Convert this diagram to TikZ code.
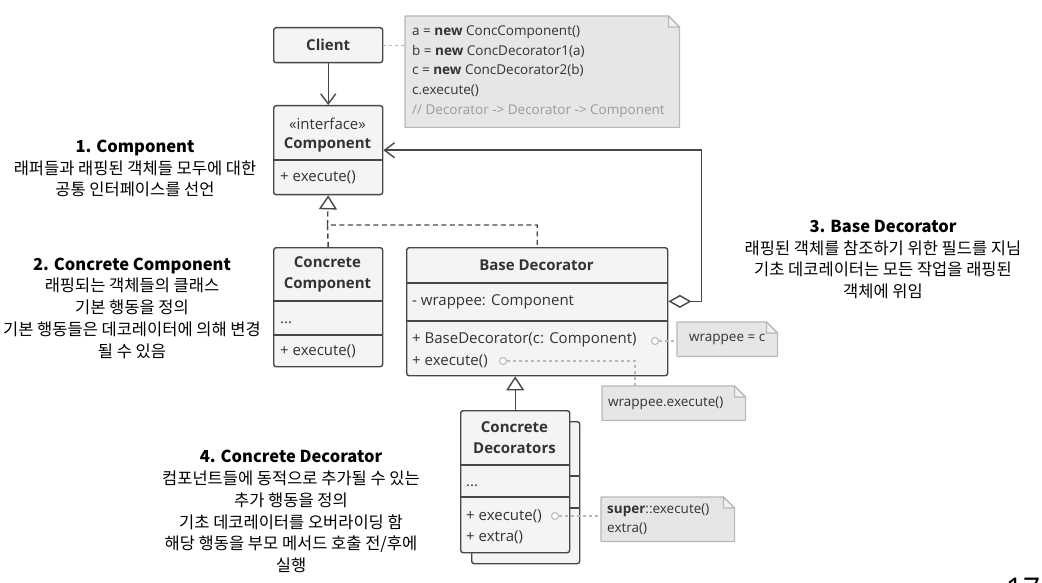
\documentclass[tikz,border=0pt]{standalone}
\usepackage{fontspec}
\setmainfont{Open Sans}
\newfontfamily\kofont{Noto Sans CJK KR}
\usepackage{xcolor}
\usepackage{tikz}
\usetikzlibrary{positioning,calc,arrows.meta}

\definecolor{umlline}{HTML}{474747}
\definecolor{umlfill}{HTML}{F4F4F4}
\definecolor{umltext}{HTML}{333333}
\definecolor{memofill}{HTML}{E6E6E6}
\definecolor{memofold}{HTML}{F2F2F2}
\definecolor{memoline}{HTML}{B8B8B8}
\definecolor{memogray}{HTML}{9A9A9A}

\begin{document}
\begin{tikzpicture}[
	x=1pt, y=-1pt,
	font=\fontsize{15}{18}\selectfont,
	% hộp lớp UML
	classbox/.style={draw=umlline, fill=umlfill, line width=1.4pt, rounded corners=2.5pt, anchor=north west, inner sep=0pt},
	cname/.style={inner sep=0pt, text=umltext, align=center, font=\fontsize{15}{21}\selectfont\bfseries},
	row/.style={anchor=base west, inner sep=0pt, text=umltext},
	divider/.style={umlline, line width=1.4pt},
	% ghi chú
	memoarea/.style={anchor=north west, inner sep=0pt},
	memobox/.style={draw=memoline, fill=memofill, line width=1.2pt, line join=round},
	memotext/.style={anchor=west, inner sep=0pt, text=umltext, align=left, font=\fontsize{13.5}{19.6}\selectfont},
	memolink/.style={memoline, line width=1.2pt, dash pattern=on 3pt off 3pt},
	dot/.style={circle, draw=memoline, fill=white, line width=1pt, minimum size=7pt, inner sep=0pt},
	% mũi tên
	assoc/.style={arrows={-Straight Barb[length=10pt,width=15pt]}, umlline, line width=1.4pt},
	realize/.style={umlline, line width=1.4pt, dash pattern=on 5pt off 3.5pt},
	inherit/.style={arrows={-Triangle[open,length=14pt,width=18pt]}, umlline, line width=1.4pt},
	aggr/.style={arrows={Diamond[open,length=23pt,width=13pt]-Straight Barb[length=10pt,width=15pt]}, umlline, line width=1.4pt},
	ann/.style={align=center, inner sep=0pt, font=\kofont\fontsize{16.5}{21.8}\selectfont}
	]
	% --- NỀN ---
	\fill[white] (0,0) rectangle (1042,583);
	\useasboundingbox (0,0) rectangle (1042,583);
	
	% --- CLIENT ---
	\node[classbox, minimum width=109pt, minimum height=35pt] (client) at (273,27) {};
	\node[cname] (clientName) at (client.center) {Client};
	
	% --- COMPONENT ---
	\node[classbox, minimum width=109pt, minimum height=89pt] (comp) at (273,105) {};
	\node[inner sep=0pt, text=umltext] (compStereo) at (327.5,124) {«interface»};
	\node[cname] (compName) at (327.5,145) {Component};
	\node[row] (compExec) at (280,182) {+ execute()};
	
	% --- CONCRETE COMPONENT ---
	\node[classbox, minimum width=109pt, minimum height=119pt] (ccomp) at (273,247) {};
	\node[cname] (ccompName) at (327.5,274) {Concrete\\Component};
	\node[row] (ccompDots) at (280,323) {...};
	\node[row] (ccompExec) at (280,355) {+ execute()};
	
	% --- BASE DECORATOR ---
	\node[classbox, minimum width=261pt, minimum height=128pt] (bd) at (406,247) {};
	\node[cname] (bdName) at (536.5,265) {Base Decorator};
	\node[row] (bdWrap) at (412,305) {- wrappee: Component};
	\node[row] (bdCtor) at (412,343) {+ BaseDecorator(c: Component)};
	\node[row] (bdExec) at (412,365) {+ execute()};
	
	% --- CONCRETE DECORATORS (hai lớp chồng) ---
	\node[classbox, minimum width=108pt, minimum height=142pt] (cdecBack) at (471,421) {};
	\foreach \y in {476, 508}
	\draw[divider] (cdecBack.west |- 0,\y) -- (cdecBack.east |- 0,\y);
	\node[classbox, minimum width=109pt, minimum height=142pt] (cdec) at (460,410) {};
	\node[cname] (cdecName) at (514.5,438) {Concrete\\Decorators};
	\node[row] (cdecDots) at (466,486) {...};
	\node[row] (cdecExec) at (466,520) {+ execute()};
	\node[row] (cdecExtra) at (466,541) {+ extra()};
	
	% --- ĐƯỜNG CHIA NGĂN ---
	\foreach \b/\y in {comp/160, ccomp/301, ccomp/335, bd/283, bd/321, cdec/465, cdec/497}
	\draw[divider] (\b.west |- 0,\y) -- (\b.east |- 0,\y);
	
	% --- GHI CHÚ ---
	\node[memoarea, minimum width=274pt, minimum height=111pt] (note1) at (405,16) {};
	\node[memoarea, minimum width=100pt, minimum height=34pt] (note2) at (677,322) {};
	\node[memoarea, minimum width=143pt, minimum height=34pt] (note3) at (602,386) {};
	\node[memoarea, minimum width=133pt, minimum height=44pt] (note4) at (601,497) {};
	\foreach \n in {note1,note2,note3,note4}{
		\filldraw[memobox] (\n.north west) -- ($(\n.north east)+(-11,0)$) -- ($(\n.north east)+(0,11)$) -- (\n.south east) -- (\n.south west) -- cycle;
		\filldraw[memobox, fill=memofold] ($(\n.north east)+(-11,0)$) -- ($(\n.north east)+(-11,11)$) -- ($(\n.north east)+(0,11)$) -- cycle;
	}
	\node[memotext] (note1Text) at ([xshift=7pt]note1.west) {a = \textbf{new} ConcComponent()\\b = \textbf{new} ConcDecorator1(a)\\c = \textbf{new} ConcDecorator2(b)\\c.execute()\\\textcolor{memogray}{// Decorator -> Decorator -> Component}};
	\node[memotext, anchor=center] (note2Text) at (note2.center) {wrappee = c};
	\node[memotext] (note3Text) at ([xshift=6pt]note3.west) {wrappee.execute()};
	\node[memotext] (note4Text) at ([xshift=6pt]note4.west) {\textbf{super}::execute()\\extra()};
	
	% --- ĐIỂM NỐI GHI CHÚ ---
	\node[dot] (dotCtor) at (655,341) {};
	\node[dot] (dotExec) at (503,361) {};
	\node[dot] (dotCdec) at (555,516) {};
	\draw[memolink] (client) -- (client -| note1.west);
	\draw[memolink] (dotCtor) -- (dotCtor -| note2.west);
	\draw[memolink] (dotExec) -| ([xshift=33pt]note3.north west);
	\draw[memolink] (dotCdec) -- (dotCdec -| note4.west);
	
	% --- QUAN HỆ ---
	\draw[assoc] (client.south) -- (client.south |- comp.north);
	\coordinate (fork) at (327.5,225);
	\draw[realize] (ccomp.north) -- (fork) -| (bd.north);
	\draw[realize, arrows={-Triangle[open,length=14pt,width=18pt]}] (fork) -- (comp.south);
	\draw[inherit] (cdec.north) -- (cdec.north |- bd.south);
	\draw[aggr] (bd.east |- bdWrap) -- ++(33,0) |- (comp.east);
	
	% --- CHÚ THÍCH ---
	\node[ann] (ann1) at (135,168.5) {\textbf{1. Component}\\래퍼들과 래핑된 객체들 모두에 대한\\공통 인터페이스를 선언};
	\node[ann] (ann2) at (132,308) {\textbf{2. Concrete Component}\\래핑되는 객체들의 클래스\\기본 행동을 정의\\기본 행동들은 데코레이터에 의해 변경\\될 수 있음};
	\node[ann] (ann3) at (883,259.5) {\textbf{3. Base Decorator}\\래핑된 객체를 참조하기 위한 필드를 지님\\기초 데코레이터는 모든 작업을 래핑된\\객체에 위임};
	\node[ann] (ann4) at (291,511.5) {\textbf{4. Concrete Decorator}\\컴포넌트들에 동적으로 추가될 수 있는\\추가 행동을 정의\\기초 데코레이터를 오버라이딩 함\\해당 행동을 부모 메서드 호출 전/후에\\실행};
	
	% --- SỐ TRANG ---
	\node[anchor=base, inner sep=0pt, font=\fontsize{30}{30}\selectfont] (pageNo) at (1023,599) {17};
\end{tikzpicture}
\end{document}
